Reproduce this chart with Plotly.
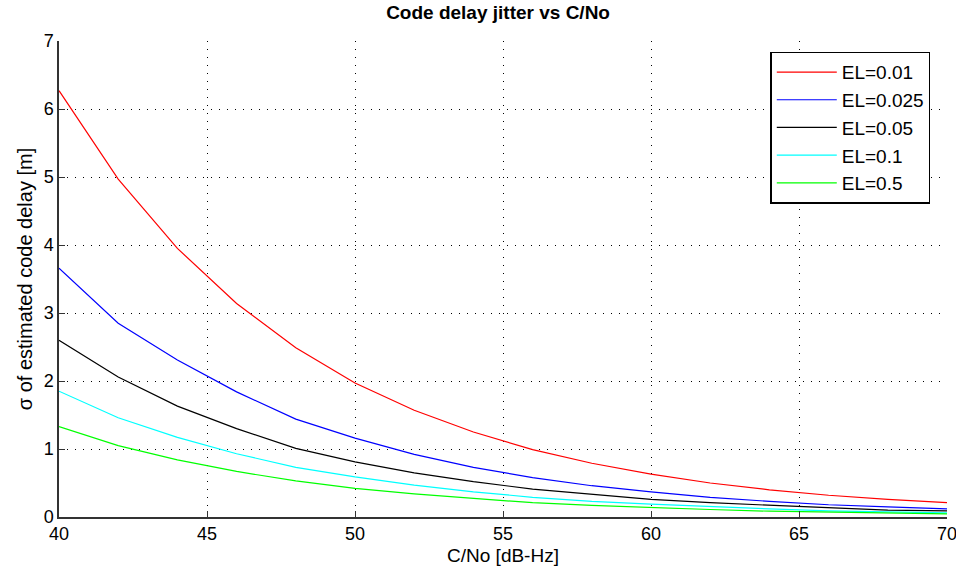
import plotly.graph_objects as go

cn0 = [40, 42, 44, 46, 48, 50, 52, 54, 56, 58, 60, 62, 64, 66, 68, 70]

el_001 = [6.27, 4.97, 3.95, 3.14, 2.49, 1.97, 1.57, 1.25, 0.99, 0.79, 0.63, 0.50, 0.40, 0.32, 0.26, 0.21]
el_0025 = [3.66, 2.85, 2.31, 1.84, 1.44, 1.16, 0.92, 0.73, 0.58, 0.46, 0.37, 0.29, 0.23, 0.18, 0.15, 0.12]
el_005 = [2.60, 2.06, 1.63, 1.30, 1.01, 0.81, 0.65, 0.52, 0.41, 0.33, 0.26, 0.21, 0.17, 0.13, 0.10, 0.09]
el_01 = [1.85, 1.46, 1.17, 0.93, 0.73, 0.59, 0.47, 0.37, 0.29, 0.23, 0.19, 0.15, 0.12, 0.09, 0.075, 0.06]
el_05 = [1.33, 1.05, 0.84, 0.67, 0.53, 0.42, 0.34, 0.27, 0.21, 0.17, 0.135, 0.11, 0.085, 0.07, 0.055, 0.045]

series = [
    ("EL=0.01", el_001, "#ff0000"),
    ("EL=0.025", el_0025, "#0000ff"),
    ("EL=0.05", el_005, "#000000"),
    ("EL=0.1", el_01, "#00ffff"),
    ("EL=0.5", el_05, "#00ff00"),
]

x_ticks = [40, 45, 50, 55, 60, 65, 70]
y_ticks = [0, 1, 2, 3, 4, 5, 6, 7]

FONT = "Liberation Sans, Arial, sans-serif"

fig = go.Figure()
for i, (name, vals, col) in enumerate(series):
    fig.add_trace(go.Scatter(x=cn0, y=vals, mode="lines", name=name,
                             line=dict(color=col, width=1.2),
                             legendgroup=f"g{i}"))

fig.update_layout(
    width=956, height=572,
    margin=dict(l=59, r=9, t=41, b=55),
    paper_bgcolor="white", plot_bgcolor="white",
    font=dict(family=FONT, size=18, color="black"),
    title=dict(text="<b>Code delay jitter vs C/No</b>", x=0.521, xanchor="center",
               y=0.978, yanchor="middle", font=dict(size=19, family=FONT)),
    showlegend=True,
    legend=dict(x=0.801, y=0.9775, xanchor="left", yanchor="top",
                bgcolor="white", bordercolor="black", borderwidth=1.5,
                font=dict(size=19, family=FONT), tracegroupgap=0,
                itemwidth=60),
    xaxis=dict(range=[40, 70], tickvals=x_ticks, ticktext=[str(v) for v in x_ticks],
               showgrid=True, gridcolor="black", griddash="1px,7px", gridwidth=1,
               showline=True, linecolor="#333333", linewidth=1.5,
               ticks="inside", ticklen=6, tickcolor="#333333", zeroline=False,
               tickfont=dict(size=18), ticklabeloverflow="allow",
               title=dict(text="C/No [dB-Hz]", standoff=5, font=dict(size=19)),
               automargin=False),
    yaxis=dict(range=[0, 7], tickvals=y_ticks, ticktext=[str(v) for v in y_ticks],
               showgrid=True, gridcolor="black", griddash="1px,7px", gridwidth=1,
               showline=True, linecolor="#333333", linewidth=1.5,
               ticks="inside", ticklen=6, tickcolor="#333333", zeroline=False,
               tickfont=dict(size=18), ticklabeloverflow="allow",
               title=dict(text="σ of estimated code delay [m]", standoff=6, font=dict(size=20)),
               automargin=False),
)

fig.write_html("out.html")
